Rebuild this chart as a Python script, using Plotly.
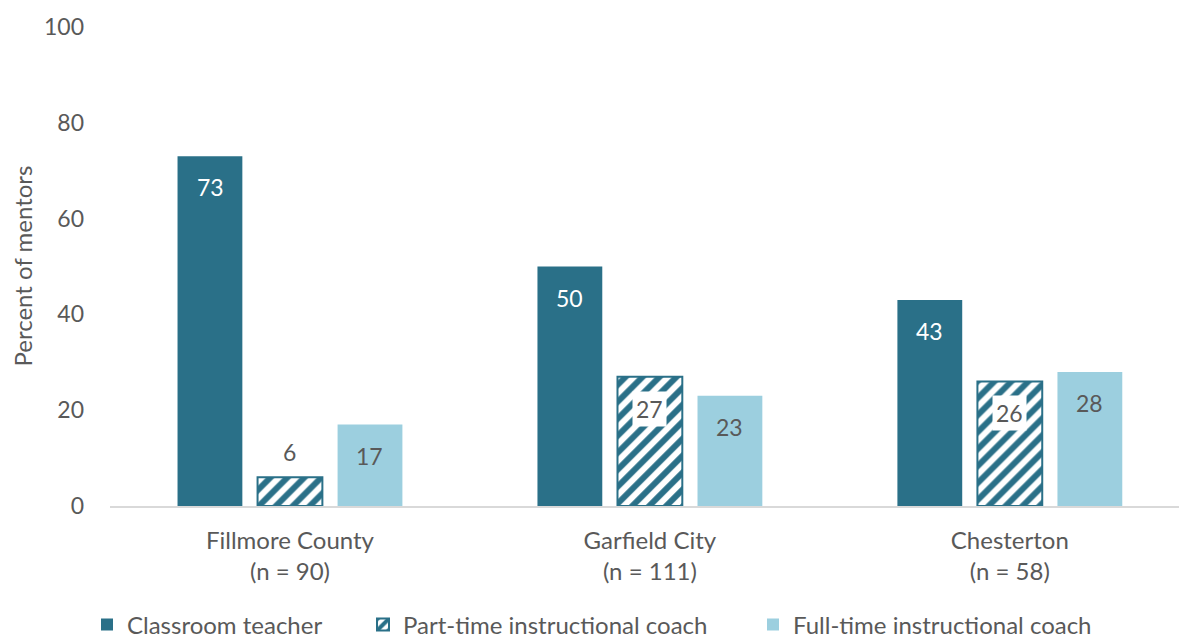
import plotly.graph_objects as go

categories = ["Fillmore County<br>(n = 90)", "Garfield City<br>(n = 111)", "Chesterton<br>(n = 58)"]
series_names = ["Classroom teacher", "Part-time instructional coach", "Full-time instructional coach"]
classroom = [73, 50, 43]
part_time = [6, 27, 26]
full_time = [17, 23, 28]
y_ticks = [0, 20, 40, 60, 80, 100]
y_title = "Percent of mentors"

DARK = "#2a7088"
LIGHT = "#9ccfdf"
TXT = "#595959"
FONT = "Lato"

xs = list(range(len(categories)))
fig = go.Figure()
fig.add_trace(go.Bar(x=xs, y=classroom, name=series_names[0], legend="legend",
                     marker=dict(color=DARK, line=dict(width=0))))
fig.add_trace(go.Bar(x=xs, y=part_time, name=series_names[1], legend="legend2",
                     marker=dict(color="white", line=dict(color=DARK, width=2),
                                 pattern=dict(shape="/", fgcolor=DARK, bgcolor="white", size=12,
                                              solidity=0.5, fillmode="replace", fgopacity=1))))
fig.add_trace(go.Bar(x=xs, y=full_time, name=series_names[2], legend="legend3",
                     marker=dict(color=LIGHT, line=dict(width=0))))

def px2paper(px):
    return (px - 110) / 1069.0

offs = [-0.222, 0.0, 0.222]
LS = 23
ann = []
for i in xs:
    ann.append(dict(x=i + offs[0], y=classroom[i], text=str(classroom[i]), showarrow=False, yshift=-31,
                    font=dict(color="white", size=LS, family=FONT)))
    v = part_time[i]
    if v < 15:
        ann.append(dict(x=i + offs[1], y=v, text=str(v), showarrow=False, yshift=25,
                        font=dict(color=TXT, size=LS, family=FONT)))
    else:
        ann.append(dict(x=i + offs[1], y=v, text=str(v), showarrow=False, yshift=-32, bgcolor="white", borderpad=3,
                        font=dict(color=TXT, size=LS, family=FONT)))
    ann.append(dict(x=i + offs[2], y=full_time[i], text=str(full_time[i]), showarrow=False, yshift=-31,
                    font=dict(color=TXT, size=LS, family=FONT)))

ann.append(dict(xref="paper", yref="paper", x=px2paper(22), y=0.5, xanchor="center", yanchor="middle",
                text=y_title, textangle=-90, showarrow=False, font=dict(size=24, color=TXT, family=FONT)))

leg_common = dict(orientation="h", xanchor="left", yref="container", y=(641 - 625) / 641.0, yanchor="middle",
                  font=dict(size=24, color=TXT, family=FONT), itemwidth=30, bgcolor="rgba(0,0,0,0)")

fig.update_layout(
    width=1179, height=641,
    margin=dict(l=110, r=0, t=27, b=135, autoexpand=False),
    plot_bgcolor="white", paper_bgcolor="white",
    barmode="group", bargap=0.333, bargroupgap=0.19,
    font=dict(family=FONT, color=TXT, size=23),
    annotations=ann,
    showlegend=True,
    legend=dict(x=px2paper(87), **leg_common),
    legend2=dict(x=px2paper(363), **leg_common),
    legend3=dict(x=px2paper(753), **leg_common),
    xaxis=dict(range=[-0.5, 2.47], tickvals=xs, ticktext=categories, showgrid=False, zeroline=False,
               showline=True, linecolor="#d9d9d9", linewidth=2, ticks="", tickfont=dict(size=24, color=TXT),
               ticklabelstandoff=12, fixedrange=True, automargin=False),
    yaxis=dict(range=[0, 100], tickvals=y_ticks, showgrid=False, zeroline=False, showline=False,
               tickfont=dict(size=23, color=TXT), ticklabelstandoff=25, automargin=False),
)
fig.write_html("out.html")
